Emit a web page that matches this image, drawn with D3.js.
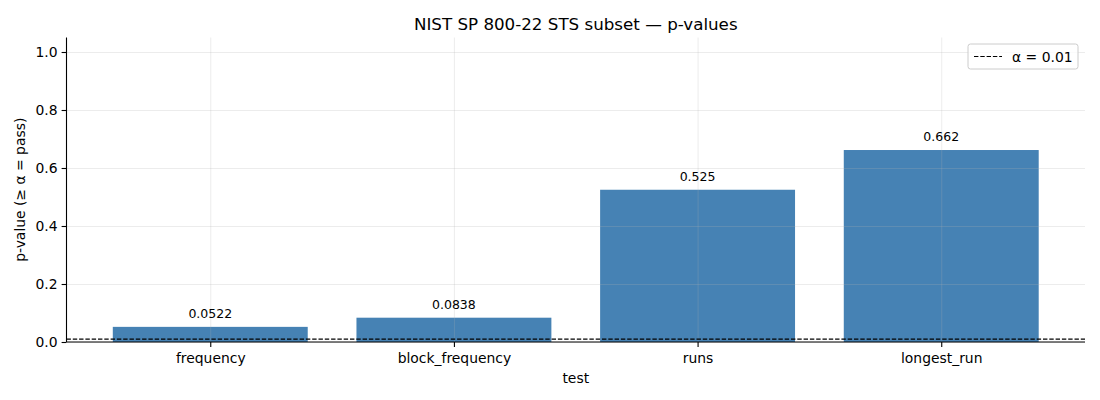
<!DOCTYPE html>
<html>
<head>
<meta charset="utf-8">
<script src="https://cdn.jsdelivr.net/npm/d3@7"></script>
<style>
	body { margin: 0; background: #fff; }
	text { font-family: "DejaVu Sans", sans-serif; fill: #000; }
</style>
</head>
<body>
<div id="chart"></div>
<script>
'use strict';

// data
const tests = ["frequency", "block_frequency", "runs", "longest_run"];
const pValues = [0.0522, 0.0838, 0.525, 0.662];
const barLabels = ["0.0522", "0.0838", "0.525", "0.662"];
const yTicks = [0.0, 0.2, 0.4, 0.6, 0.8, 1.0];
const alpha = 0.01;

const width = 1100, height = 400;
const margin = { top: 37.5, right: 15, bottom: 58, left: 66.5 };
const innerW = width - margin.left - margin.right;
const innerH = height - margin.top - margin.bottom;

const svg = d3.select("#chart")
	.append("svg")
		.attr("width", width)
		.attr("height", height);

const g = svg.append("g")
	.attr("transform", `translate(${margin.left},${margin.top})`);

// matplotlib-like: bar centres at 0..n-1, 5% margins
const n = tests.length;
const pad = (n - 1 + 0.8) * 0.05;
const xScale = d3.scaleLinear()
	.domain([-0.4 - pad, n - 1 + 0.4 + pad])
	.range([0, innerW]);

const yScale = d3.scaleLinear()
	.domain([0, 1.05])
	.range([innerH, 0]);

const barW = xScale(0.8) - xScale(0);

// bars
g.selectAll("rect.bar")
	.data(pValues)
	.join("rect")
		.attr("class", "bar")
		.attr("x", (d, i) => xScale(i - 0.4))
		.attr("y", d => yScale(d))
		.attr("width", barW)
		.attr("height", d => yScale(0) - yScale(d))
		.attr("fill", "#4682b4");

// grid over the bars
const xGrid = d3.axisBottom(xScale)
	.tickValues(d3.range(n))
	.tickSize(-innerH)
	.tickFormat("");
g.append("g")
	.attr("transform", `translate(0,${innerH})`)
	.call(xGrid)
	.call(s => s.select(".domain").remove())
	.call(s => s.selectAll("line").attr("stroke", "#b0b0b0").attr("stroke-opacity", 0.3).attr("stroke-width", 0.8));

const yGrid = d3.axisLeft(yScale)
	.tickValues(yTicks)
	.tickSize(-innerW)
	.tickFormat("");
g.append("g")
	.call(yGrid)
	.call(s => s.select(".domain").remove())
	.call(s => s.selectAll("line").attr("stroke", "#b0b0b0").attr("stroke-opacity", 0.3).attr("stroke-width", 0.8));

// alpha threshold
g.append("line")
	.attr("x1", 0)
	.attr("x2", innerW)
	.attr("y1", yScale(alpha))
	.attr("y2", yScale(alpha))
	.attr("stroke", "#000")
	.attr("stroke-width", 1.2)
	.attr("stroke-dasharray", "4.4,1.9");

// value labels
g.selectAll("text.val")
	.data(pValues)
	.join("text")
		.attr("class", "val")
		.attr("x", (d, i) => xScale(i))
		.attr("y", d => yScale(d) - 9)
		.attr("text-anchor", "middle")
		.style("font-size", "12.5px")
		.text((d, i) => barLabels[i]);

// axes
const xAxis = g.append("g")
	.attr("transform", `translate(0,${innerH})`)
	.call(d3.axisBottom(xScale)
		.tickValues(d3.range(n))
		.tickSize(4.9)
		.tickPadding(6)
		.tickFormat(i => tests[i]));
xAxis.selectAll("text").style("font-size", "13.9px");

const yAxis = g.append("g")
	.call(d3.axisLeft(yScale)
		.tickValues(yTicks)
		.tickSize(4.9)
		.tickPadding(4)
		.tickFormat(d3.format(".1f")));
yAxis.selectAll("text").style("font-size", "13.9px");

[xAxis, yAxis].forEach(a => {
	a.select(".domain").attr("stroke", "#000").attr("stroke-width", 1.1)
		.attr("d", a === xAxis ? `M0,0H${innerW}` : `M0,0V${innerH}`);
	a.selectAll(".tick line").attr("stroke", "#000").attr("stroke-width", 1.1);
});

// titles
svg.append("text")
	.attr("x", margin.left + innerW / 2)
	.attr("y", 30)
	.attr("text-anchor", "middle")
	.style("font-size", "16.7px")
	.text("NIST SP 800-22 STS subset — p-values");

svg.append("text")
	.attr("x", margin.left + innerW / 2)
	.attr("y", 383)
	.attr("text-anchor", "middle")
	.style("font-size", "13.9px")
	.text("test");

svg.append("text")
	.attr("transform", `translate(25,${margin.top + innerH / 2}) rotate(-90)`)
	.attr("text-anchor", "middle")
	.style("font-size", "13.9px")
	.text("p-value (≥ α = pass)");

// legend
const legend = svg.append("g")
	.attr("transform", `translate(968,44)`);
legend.append("rect")
	.attr("width", 110)
	.attr("height", 25)
	.attr("rx", 2.5)
	.attr("fill", "#fff")
	.attr("fill-opacity", 0.8)
	.attr("stroke", "#ccc")
	.attr("stroke-width", 1);
legend.append("line")
	.attr("x1", 6)
	.attr("x2", 34)
	.attr("y1", 12.5)
	.attr("y2", 12.5)
	.attr("stroke", "#000")
	.attr("stroke-width", 1.2)
	.attr("stroke-dasharray", "4.4,1.9");
legend.append("text")
	.attr("x", 44)
	.attr("y", 17.5)
	.style("font-size", "13.9px")
	.text("α = 0.01");
</script>
</body>
</html>
